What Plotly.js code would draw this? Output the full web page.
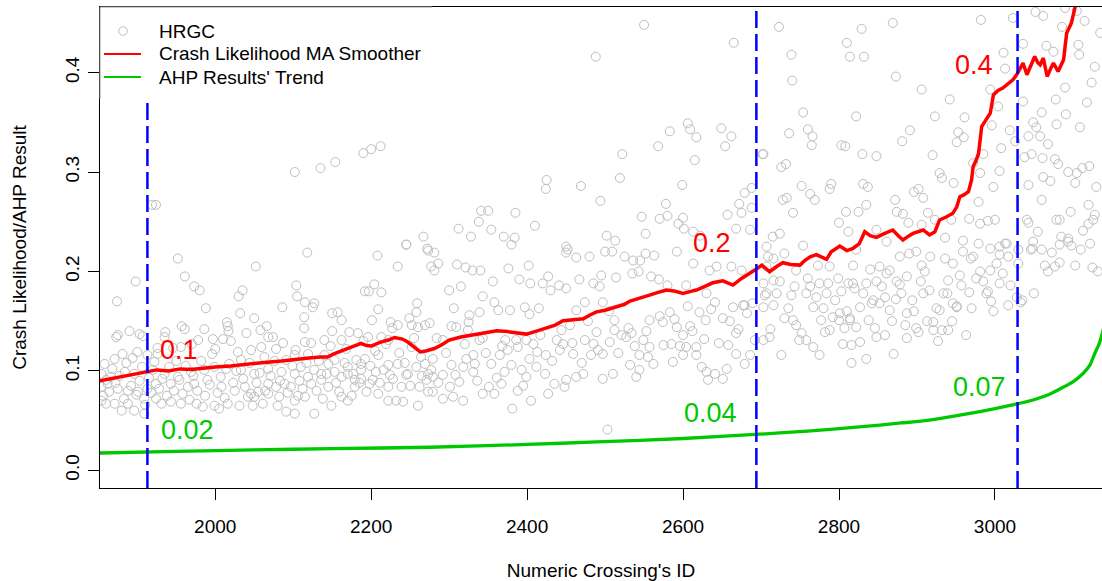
<!DOCTYPE html>
<html><head><meta charset="utf-8">
<script src="https://cdn.plot.ly/plotly-3.0.1.min.js"></script>
<style>html,body{margin:0;padding:0;background:#fff}#chart{width:1102px;height:581px}</style>
</head><body><div id="chart"></div>
<script>
// ---------- data ----------
const hrgcId = [
1874,1898,1952,1961,1973,1980,2052,2118,2208,2234,
2245,2273,2277,2035,2030,2104,2105,2115,2127,2125,
2086,2050,2032,2015,1988,1986,2016,2017,2040,2058,
2066,2068,2074,2087,2103,2115,2114,2114,2150,2157,
2162,2150,2172,2162,2204,2192,2197,2213,2209,2201,
2225,2227,2234,2249,2258,2259,2252,2260,2269,2275,
2272,1957,1961,1936,1926,1935,1890,1875,1873,1903,
1907,1871,1858,1881,1900,1913,1926,1946,1956,1970,
1978,1997,2010,2000,2020,2029,2033,2046,2059,2063,
2078,2102,2119,2140,2153,2181,2187,2192,2209,2222,
2234,2252,2264,2277,2273,2271,2245,2239,2222,2202,
2198,2179,2175,2170,2162,2149,2127,2102,2091,2080,
2061,2050,2042,2031,2016,2005,1999,1984,1976,1956,
1943,1931,1924,1909,1896,1909,1888,1880,1871,1860,
1854,1854,1862,1875,1888,1901,1913,1924,1943,1954,
1965,1973,1990,2008,2025,2038,2046,2055,2068,2078,
2089,2097,2106,2115,2123,2136,2145,2162,2170,2179,
2187,2209,2222,2232,2241,2260,2262,2273,2222,2213,
2196,2183,2123,2140,2091,2110,2127,2145,2170,2206,
2224,2247,2258,2269,1854,1866,1884,1896,1920,1935,
1952,1969,1986,1999,2014,2033,2050,2068,2085,2102,
2119,2136,2153,2187,2082,2068,2102,
2102,2135,2154,2190,2200,2212,1919,1924,2245,2267,
2550,2488,2665,2606,2609,2583,2617,2649,2662,2654,
2568,2522,2615,2702,2519,2425,2424,2469,2599,2494,
2578,2679,2672,2688,2688,2675,2657,2547,2570,2580,
2600,2594,2601,2613,2668,2686,2552,2502,2513,2341,
2350,2338,2385,2312,2354,2328,2370,2384,2380,2410,
2450,2622,
2452,2450,2463,2480,2500,2509,2525,2536,2545,2552,
2563,2592,2613,2634,2643,2662,2675,2709,2281,2286,
2281,2310,2321,2330,2340,2376,2402,2356,2390,2404,
2427,2420,2430,2441,2450,2467,2485,2495,2493,2514,
2535,2543,2559,2569,2580,2604,2630,2641,2677,2689,
2705,2300,2315,2343,2358,2363,2378,2397,2415,2403,
2306,2326,2339,2325,2303,2309,2284,2292,2324,2343,
2372,2386,2399,2375,2388,2408,2413,2424,2438,2446,
2442,2455,2463,2474,2497,2512,2512,2521,2506,2489,
2474,2485,2459,2482,2497,2527,2534,2549,2557,2570,
2574,2583,2592,2600,2609,2621,2629,2651,2664,2679,
2668,2658,2604,2617,2585,2557,2544,2555,2532,2544,
2540,2587,2600,2617,2624,2630,2641,2651,2632,2656,
2679,2686,2668,2510,2497,2472,2463,2450,2448,2435,
2427,2405,2381,2388,2367,2358,2343,2318,2305,2292,
2279,2301,2313,2292,2279,2303,2318,2331,2333,2365,
2354,2371,2393,2403,2412,2399,2423,2503,2351,2339,
2331,2320,
2723,2829,2869,2982,3023,3052,3062,3090,3086,3115,
3105,2810,2814,2832,2739,2740,2873,2906,2942,3011,
3013,3036,3066,3075,3107,3108,3135,3128,3124,3090,
3078,3118,2754,2822,2923,2961,2994,3004,3036,3060,
3091,3079,3109,2736,2760,2766,2765,2803,2808,2891,
2881,2953,2951,2960,2996,3019,3026,3049,3053,3043,
3058,3068,3008,2985,2703,2830,2848,2920,2972,2981,
3006,3038,3047,3061,3077,3081,3094,3105,3112,3121,
3130,3103,3062,3071,3043,2998,2947,2929,2932,2902,
2896,2908,2872,2835,2831,2837,2790,2788,2752,2763,
2769,2728,2733,2741,2726,2732,2809,2825,2874,2882,
2914,2979,2967,2944,2923,2906,2889,2848,2800,2812,
2715,2724,2754,2936,2959,2981,2991,3000,3006,3015,
3041,3043,3049,3060,3079,3083,3094,3094,3113,3120,
3126,
2979,3013,3048,3083,3098,3030,3046,3060,3073,2959,
2994,3006,3017,3064,3077,3083,3125,3030,3002,2972,
2969,2936,2946,2917,2906,2890,2899,2878,2865,2852,
2840,2822,2861,2707,2730,2716,2707,2745,2773,2788,
2818,2981,2994,3006,2976,2955,2940,2910,2887,2874,
2861,2848,2835,2818,2799,2786,2775,2760,2743,2724,
2716,2703,2707,2720,2739,2758,2771,2784,2803,2812,
2831,2844,2859,2873,2880,2894,2908,2916,2939,2946,
2951,2967,2989,2991,2998,3017,3028,3033,2703,2716,
2730,2745,2749,2758,2767,2775,2782,2788,2792,2801,
2807,2814,2822,2827,2846,2848,2859,2870,2835,2816,
2805,2767,2777,2800,2814,2842,2852,2865,2887,2885,
2899,2902,2921,2932,2921,2940,2927,2925,2929,2951,
2963,2887,2827,2816,2703,2711,2726,2741,
3103,3120,3128,3035,3050,
1856,1860,1864,1868,1872,1877,1883,1886,1892,1894,
1899,1903,1906,1910,1915,1918,1922,1928,1932,1938,
1941,1947,1950,1958,1962,1967,1972,1977,1982,1987,
1993,1996,2003,2007,2012,2018,2023,2027,2036,2044,
2048,2053,2057,2064,2071,2076,2083,2093,2099,2108,
2112,2117,2130,2133,2138,2143,2148,2155,2159,2166,
2168,2177,2185,2190,2194,2199,2205,2211,2216,2219,
2228,2236,2243,2250,2255,2265,2279,2286,2296,2308,
2322,2336,2347,2361,2368,2380,2395,2417,2432,2444,
2458,2470,2478,2491,2505,2517,2530,2538,2553,2562,
2575,2589,2596,2606,2612,2627,2636,2646,2660,2671,
2682,2692,2712,2735,2752,2763,2780,2795,2810,2820,
2838,2855,2868,2878,2896,2905,2913,2934,2945,2957,
2970,2985,2995,3010,3020,3055,3068,3085,3097,3110,
3122,3132
];
const hrgcValue = [
.170,.190,.213,.195,.185,.181,.205,.219,.216,.205,
.227,.221,.205,.181,.175,.186,.175,.169,.168,.164,
.164,.153,.158,.149,.163,.142,.145,.140,.138,.141,
.145,.134,.134,.128,.121,.129,.154,.143,.158,.159,
.151,.140,.139,.131,.187,.180,.180,.179,.162,.151,
.149,.143,.146,.153,.159,.168,.146,.144,.146,.148,
.223,.145,.142,.139,.123,.134,.140,.136,.134,.137,
.135,.112,.107,.117,.119,.116,.117,.123,.124,.127,
.131,.132,.132,.122,.130,.119,.111,.121,.124,.114,
.122,.116,.117,.116,.111,.111,.107,.112,.116,.106,
.107,.124,.114,.101,.097,.091,.096,.084,.084,.091,
.087,.084,.075,.070,.074,.065,.057,.057,.059,.065,
.067,.074,.074,.065,.067,.062,.065,.064,.067,.067,
.069,.067,.072,.072,.060,.057,.067,.060,.067,.067,
.070,.084,.087,.082,.080,.079,.082,.087,.087,.091,
.084,.087,.091,.084,.080,.084,.077,.079,.087,.084,
.087,.084,.075,.074,.087,.091,.084,.094,.097,.091,
.092,.077,.070,.070,.069,.065,.084,.079,.131,.134,
.134,.138,.128,.131,.111,.104,.101,.107,.104,.099,
.096,.097,.104,.107,.097,.094,.099,.097,.101,.097,
.094,.099,.101,.104,.102,.101,.097,.102,.099,.097,
.094,.097,.099,.101,.074,.077,.070,
.300,.304,.310,.319,.323,.326,.267,.267,.227,.235,
.448,.416,.430,.349,.343,.341,.335,.344,.336,.326,
.326,.318,.312,.318,.294,.292,.283,.286,.287,.271,
.268,.279,.268,.284,.264,.259,.257,.255,.253,.256,
.254,.248,.243,.240,.243,.242,.238,.236,.231,.261,
.261,.250,.259,.243,.242,.235,.235,.234,.227,.246,
.225,.236,
.222,.219,.214,.215,.220,.220,.215,.211,.211,.218,
.216,.220,.208,.201,.205,.205,.201,.215,.219,.208,
.201,.207,.204,.201,.201,.203,.206,.190,.192,.188,
.195,.188,.181,.186,.183,.192,.188,.196,.185,.194,
.198,.200,.195,.192,.186,.186,.178,.169,.166,.168,
.176,.181,.185,.175,.169,.161,.161,.164,.163,.157,
.163,.156,.159,.149,.145,.144,.133,.131,.141,.133,
.131,.131,.131,.121,.124,.127,.119,.116,.131,.127,
.121,.146,.161,.169,.169,.151,.141,.136,.129,.139,
.131,.127,.117,.116,.117,.134,.138,.131,.151,.155,
.149,.159,.144,.136,.145,.159,.151,.153,.164,.166,
.138,.126,.124,.124,.127,.124,.116,.114,.106,.101,
.094,.109,.116,.116,.104,.099,.097,.092,.091,.102,
.107,.116,.117,.097,.092,.097,.094,.091,.084,.087,
.077,.070,.062,.080,.087,.077,.077,.070,.074,.072,
.079,.084,.089,.096,.094,.106,.104,.099,.107,.116,
.107,.099,.101,.112,.104,.094,.097,.041,.084,.131,
.116,.127,
.446,.444,.450,.453,.455,.461,.457,.465,.446,.452,
.462,.430,.416,.416,.418,.392,.396,.383,.373,.420,
.404,.429,.427,.421,.428,.418,.440,.406,.390,.385,
.373,.370,.360,.356,.356,.355,.383,.366,.371,.360,
.358,.348,.345,.339,.343,.336,.327,.327,.326,.342,
.331,.340,.330,.335,.347,.342,.331,.350,.345,.336,
.336,.328,.324,.318,.318,.318,.316,.317,.309,.299,
.301,.315,.318,.314,.313,.308,.300,.299,.304,.306,
.285,.289,.295,.291,.287,.285,.289,.299,.294,.283,
.280,.274,.272,.267,.288,.285,.288,.283,.286,.278,
.272,.272,.274,.259,.305,.308,.260,.260,.260,.258,
.259,.270,.253,.252,.252,.247,.249,.242,.249,.240,
.235,.238,.226,.234,.231,.248,.251,.252,.225,.228,
.252,.249,.230,.272,.252,.252,.233,.230,.241,.248,
.252,
.228,.228,.223,.227,.226,.222,.222,.222,.219,.220,
.223,.217,.215,.206,.205,.209,.204,.208,.208,.215,
.213,.213,.208,.215,.206,.218,.220,.215,.201,.205,
.202,.222,.230,.225,.218,.213,.205,.201,.206,.205,
.206,.200,.201,.188,.193,.196,.191,.200,.195,.190,
.198,.190,.188,.188,.193,.188,.188,.193,.185,.190,
.191,.188,.178,.178,.176,.178,.174,.178,.180,.188,
.178,.171,.174,.172,.178,.171,.178,.181,.178,.168,
.164,.179,.178,.180,.160,.166,.174,.169,.164,.166,
.153,.146,.131,.131,.124,.116,.139,.141,.154,.158,
.143,.153,.144,.164,.143,.134,.136,.117,.112,.108,
.127,.164,.151,.151,.151,.168,.168,.161,.158,.146,
.143,.139,.149,.141,.141,.141,.130,.163,.161,.165,
.136,.133,.129,.126,.131,.134,.116,.151,
.206,.267,.257,.171,.178,
.075,.091,.079,.102,.088,.095,.072,.108,.085,.113,
.076,.090,.104,.066,.093,.078,.109,.082,.092,.075,
.104,.080,.110,.077,.105,.071,.095,.080,.110,.075,
.086,.117,.078,.094,.073,.107,.088,.100,.092,.108,
.065,.088,.098,.080,.095,.110,.090,.078,.105,.090,
.082,.108,.080,.110,.072,.097,.125,.088,.079,.108,
.122,.097,.088,.130,.079,.105,.120,.088,.101,.127,
.092,.118,.108,.085,.133,.095,.112,.088,.118,.096,
.112,.090,.118,.093,.125,.106,.085,.136,.110,.141,
.128,.108,.150,.121,.160,.118,.143,.125,.140,.107,
.126,.152,.125,.165,.140,.132,.162,.128,.150,.142,
.158,.131,.142,.163,.138,.185,.163,.171,.160,.183,
.151,.185,.150,.187,.160,.190,.150,.178,.150,.186,
.163,.190,.170,.198,.186,.240,.200,.235,.260,.222,
.228,.200
];

const maId = [1852,1865,1880,1895,1911,1925,1940,1955,1969,1985,2000,2020,2038,2055,2070,2085,2102,2120,2135,2144,
2152,2162,2175,2187,2194,2200,2212,2222,2230,2240,2247,2255,2263,2270,2281,2290,2300,2315,2339,2350,
2361,2375,2390,2399,2412,2425,2436,2446,2455,2465,2472,2480,2489,2500,2515,2525,2532,2545,2557,2568,
2579,2590,2600,2610,2617,2628,2638,2651,2658,2664,2675,2686,2695,2701,2706,2711,2720,2728,2738,2750,
2756,2763,2771,2784,2790,2801,2810,2818,2826,2833,2840,2848,2858,2869,2876,2882,2890,2895,2908,2916,
2923,2929,2938,2946,2951,2955,2960,2966,2970,2972,2976,2979,2983,2988,2994,2998,3004,3010,3016,3023,
3028,3030,3036,3041,3046,3051,3055,3058,3062,3067,3072,3075,3081,3088,3092,3098,3103,3108];
const maValue = [0.090,0.092,0.094,0.097,0.099,0.101,0.100,0.102,0.1014,0.103,0.104,0.105,0.1067,0.108,0.109,0.110,0.1118,0.113,0.114,0.114,
0.117,0.120,0.124,0.1276,0.1255,0.125,0.129,0.131,0.1336,0.132,0.129,0.124,0.119,0.120,0.1225,0.126,0.131,0.134,0.1377,0.139,
0.1403,0.1395,0.138,0.137,0.140,0.1437,0.146,0.1504,0.151,0.152,0.1524,0.156,0.1594,0.161,0.1645,0.167,0.1702,0.173,0.1762,0.179,
0.1813,0.180,0.178,0.180,0.1813,0.185,0.1886,0.1906,0.188,0.1863,0.193,0.198,0.203,0.2064,0.203,0.1997,0.205,0.2088,0.207,0.2064,
0.211,0.2148,0.217,0.2122,0.2198,0.2256,0.221,0.2232,0.228,0.240,0.236,0.2343,0.238,0.2417,0.236,0.2316,0.236,0.2383,0.2417,0.2367,
0.240,0.2518,0.255,0.2585,0.265,0.2752,0.277,0.2803,0.292,0.3054,0.312,0.3189,0.3457,0.352,0.3592,0.3776,0.382,0.3844,0.388,0.3928,
0.398,0.4011,0.4096,0.3978,0.408,0.4162,0.410,0.4079,0.4146,0.3961,0.405,0.4096,0.4011,0.4129,0.4398,0.4498,0.4666,0.485];

const trendId = [1852,1950,2050,2150,2275,2400,2489,2600,2698,2760,2826,2880,2911,2966,3000,3027,3050,3070,3085,3100,3113,3122,3128,3133,3137,3140];
const trendValue = [0.0174,0.0190,0.0205,0.0218,0.0232,0.0260,0.0285,0.0320,0.0363,0.0395,0.0436,0.0476,0.0500,0.0570,0.0620,0.0665,0.0710,0.0765,0.0825,0.0890,0.0974,0.1060,0.1175,0.1260,0.1360,0.1450];

const cutoffIds = [1913, 2694, 3029];
const labelText = ['0.1','0.02','0.2','0.04','0.4','0.07'];
const labelId = [1953,1965,2637,2635,2973,2980];
const labelValue = [0.121,0.041,0.229,0.058,0.408,0.084];
const labelSeries = ['ma','trend','ma','trend','ma','trend'];

const xTicks = [2000,2200,2400,2600,2800,3000];
const yTicks = [0,0.1,0.2,0.3,0.4];
const yTickText = ['0.0','0.1','0.2','0.3','0.4'];
const legendNames = ['HRGC','Crash Likelihood MA Smoother',"AHP Results' Trend"];
const xTitle = "Numeric Crossing's ID";
const yTitle = 'Crash Likelihood/AHP Result';

// ---------- styling ----------
const FONT = 'Arial, "Liberation Sans", sans-serif';
const GREY = '#BEBEBE', RED = '#FF0000', GREEN = '#00C800', BLUE = '#0000FF';
const seriesColor = {ma: RED, trend: GREEN};
const W = 1102, H = 581, ML = 100, MR = 0, MT = 7, MB = 93;
const PW = W - ML - MR, PH = H - MT - MB;
const px = v => (v - ML) / PW;        // pixel -> paper x (legend layout only)
const py = v => (H - MB - v) / PH;    // pixel -> paper y

const traces = [
  {type:'scatter', mode:'markers', x:hrgcId, y:hrgcValue, name:legendNames[0],
   marker:{symbol:'circle-open', size:9, color:GREY, line:{width:1, color:GREY}}, showlegend:false},
  {type:'scatter', mode:'lines', x:maId, y:maValue, name:legendNames[1],
   line:{color:RED, width:3.5}, showlegend:false},
  {type:'scatter', mode:'lines', x:trendId, y:trendValue, name:legendNames[2],
   line:{color:GREEN, width:3.3, shape:'spline', smoothing:0.6}, showlegend:false}
];

const shapes = cutoffIds.map(c => ({type:'line', xref:'x', yref:'paper', x0:c, x1:c, y0:0, y1:1,
  line:{color:BLUE, width:2.5, dash:'17px,6px'}, layer:'above'}));

// legend box
const LX1 = 432, LY1 = 99;
shapes.push({type:'rect', xref:'paper', yref:'paper', x0:0, x1:px(LX1), y0:py(LY1), y1:1,
  fillcolor:'#FFFFFF', line:{width:0}, layer:'above'});
shapes.push({type:'line', xref:'paper', yref:'paper', x0:0, x1:px(LX1), y0:1, y1:1, line:{color:'#9a9a9a', width:1}, layer:'above'});
shapes.push({type:'line', xref:'paper', yref:'paper', x0:0, x1:0, y0:py(LY1), y1:1, line:{color:'#9a9a9a', width:1}, layer:'above'});
const rows = [31, 54, 77];
shapes.push({type:'circle', xref:'paper', yref:'paper', xsizemode:'pixel', ysizemode:'pixel',
  xanchor:px(123), yanchor:py(rows[0]), x0:-4.3, x1:4.3, y0:-4.3, y1:4.3, line:{color:GREY, width:1}, layer:'above'});
shapes.push({type:'line', xref:'paper', yref:'paper', x0:px(104), x1:px(141), y0:py(rows[1]), y1:py(rows[1]), line:{color:RED, width:2}, layer:'above'});
shapes.push({type:'line', xref:'paper', yref:'paper', x0:px(104), x1:px(141), y0:py(rows[2]), y1:py(rows[2]), line:{color:GREEN, width:2}, layer:'above'});

const annotations = legendNames.map((n,i) => ({xref:'paper', yref:'paper', x:px(157), y:py(rows[i]),
  xanchor:'left', yanchor:'middle', text:n, showarrow:false, font:{family:FONT, size:19, color:'#000'}}));
labelText.forEach((t,i) => annotations.push({xref:'x', yref:'y', x:labelId[i], y:labelValue[i], text:t,
  showarrow:false, xanchor:'center', yanchor:'middle', font:{family:FONT, size:27, color:seriesColor[labelSeries[i]]}}));

const layout = {
  width:W, height:H, margin:{l:ML, r:MR, t:MT, b:MB, pad:0},
  paper_bgcolor:'#FFFFFF', plot_bgcolor:'#FFFFFF', showlegend:false, hovermode:false,
  font:{family:FONT, size:19, color:'#000'},
  xaxis:{range:[1852.2, 3137.3], tickvals:xTicks, ticks:'outside', ticklen:11, tickwidth:1, tickcolor:'#000',
    showline:true, linecolor:'#000', linewidth:1, mirror:true, showgrid:false, zeroline:false,
    tickfont:{family:FONT, size:19}, ticklabelstandoff:10,
    title:{text:xTitle, font:{family:FONT, size:19}, standoff:27}},
  yaxis:{range:[-0.0178, 0.466], tickvals:yTicks, ticktext:yTickText, ticks:'outside', ticklen:11, tickwidth:1, tickcolor:'#000',
    tickangle:-90, showline:true, linecolor:'#000', linewidth:1, mirror:true, showgrid:false, zeroline:false,
    tickfont:{family:FONT, size:19}, ticklabelstandoff:1,
    title:{text:yTitle, font:{family:FONT, size:19}, standoff:30}},
  shapes:shapes, annotations:annotations
};

Plotly.newPlot('chart', traces, layout, {staticPlot:true, displayModeBar:false});
</script></body></html>
